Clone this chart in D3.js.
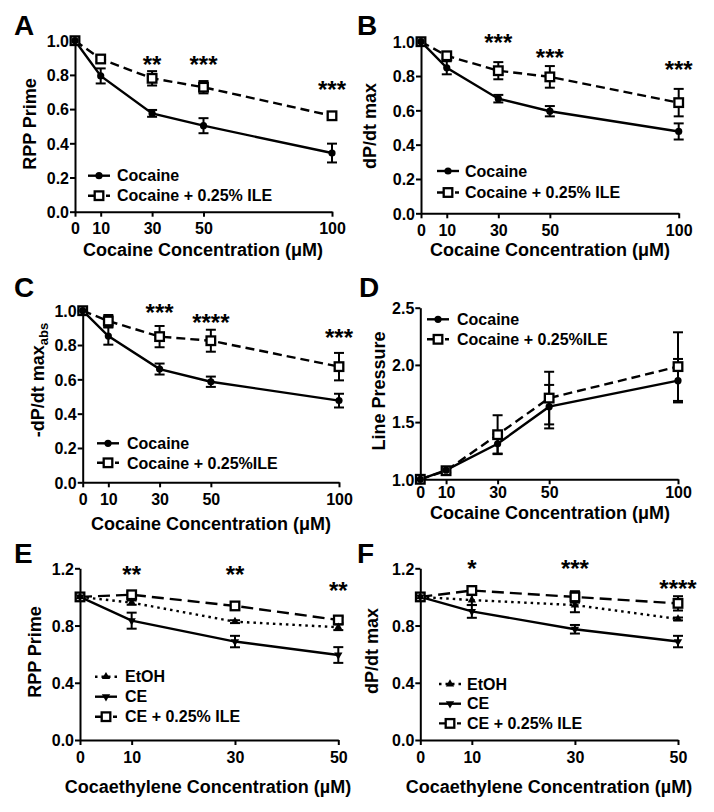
<!DOCTYPE html>
<html><head><meta charset="utf-8">
<script src="https://cdn.jsdelivr.net/npm/d3@7"></script>
<style>
body{margin:0;background:#fff}
text{font-family:"Liberation Sans",Arial,sans-serif;font-weight:bold;fill:#000}
</style>
</head><body>
<svg id="c" width="714" height="812"></svg>
<script>
// ---------- data ----------
const concCocaine = [0, 10, 30, 50, 100];
const concCE = [0, 10, 30, 50];
const ticksCocaineX = [0, 10, 30, 50, 100];
const ticksCEX = [0, 10, 30, 50];
const ticksY1 = [0, 0.2, 0.4, 0.6, 0.8, 1.0];
const ticksYD = [1.0, 1.5, 2.0, 2.5];
const ticksYEF = [0, 0.4, 0.8, 1.2];

// Panel A: RPP Prime
const A_cocaine = [1.0, 0.794, 0.575, 0.503, 0.343];
const A_cocaineErr = [0, 0.044, 0.02, 0.044, 0.055];
const A_ile = [1.0, 0.893, 0.78, 0.728, 0.561];
const A_ileErr = [0, 0.015, 0.042, 0.036, 0.018];
const A_stars = ["", "", "**", "***", "***"];
const A_starLevel = [0, 0, 0.897, 0.897, 0.749];

// Panel B: dP/dt max
const B_cocaine = [1.0, 0.848, 0.668, 0.595, 0.477];
const B_cocaineErr = [0, 0.038, 0.022, 0.03, 0.047];
const B_ile = [1.0, 0.918, 0.831, 0.795, 0.645];
const B_ileErr = [0, 0.02, 0.05, 0.063, 0.08];
const B_stars = ["", "", "***", "***", "***"];
const B_starLevel = [0, 0, 1.029, 0.942, 0.874];

// Panel C: -dP/dt max abs
const C_cocaine = [1.0, 0.852, 0.66, 0.586, 0.476];
const C_cocaineErr = [0, 0.05, 0.032, 0.03, 0.04];
const C_ile = [1.0, 0.94, 0.849, 0.825, 0.674];
const C_ileErr = [0, 0.035, 0.062, 0.064, 0.08];
const C_stars = ["", "", "***", "****", "***"];
const C_starLevel = [0, 0, 1.023, 0.965, 0.878];

// Panel D: Line Pressure
const D_cocaine = [1.0, 1.08, 1.31, 1.635, 1.862];
const D_cocaineErr = [0, 0.02, 0.085, 0.19, 0.19];
const D_ile = [1.0, 1.075, 1.39, 1.71, 1.985];
const D_ileErr = [0, 0.02, 0.17, 0.23, 0.3];

// Panel E: RPP Prime (cocaethylene)
const E_etoh = [1.0, 0.96, 0.827, 0.788];
const E_etohErr = [0, 0.015, 0.01, 0.02];
const E_ce = [1.0, 0.834, 0.688, 0.594];
const E_ceErr = [0, 0.056, 0.04, 0.055];
const E_ile = [1.0, 1.015, 0.937, 0.839];
const E_ileErr = [0, 0.02, 0.02, 0.02];
const E_stars = ["", "**", "**", "**"];
const E_starLevel = [0, 1.2, 1.2, 1.083];

// Panel F: dP/dt max (cocaethylene)
const F_etoh = [1.0, 0.978, 0.943, 0.846];
const F_etohErr = [0, 0.035, 0.05, 0.01];
const F_ce = [1.0, 0.899, 0.774, 0.688];
const F_ceErr = [0, 0.045, 0.03, 0.04];
const F_ile = [1.0, 1.045, 1.0, 0.955];
const F_ileErr = [0, 0.03, 0.04, 0.05];
const F_stars = ["", "*", "***", "****"];
const F_starLevel = [0, 1.242, 1.242, 1.102];

// ---------- drawing ----------
const svg = d3.select("#c");
const styles = {
  solid: {dash: null},
  dashed: {dash: "9,5"},
  longdash: {dash: "12,6"},
  dotted: {dash: "2.5,4"}
};

function marker(g, type, cx, cy) {
  if (type === "circle") {
    g.append("circle").attr("cx", cx).attr("cy", cy).attr("r", 3.6).attr("fill", "#000");
  } else if (type === "square") {
    g.append("rect").attr("x", cx - 4.3).attr("y", cy - 4.3).attr("width", 8.6).attr("height", 8.6)
      .attr("fill", "#fff").attr("stroke", "#000").attr("stroke-width", 2.3);
  } else if (type === "tri") {
    const s = d3.symbol().type(d3.symbolTriangle).size(30);
    g.append("path").attr("d", s()).attr("transform", `translate(${cx},${cy})`).attr("fill", "#000");
  } else if (type === "itri") {
    const s = d3.symbol().type(d3.symbolTriangle).size(30);
    g.append("path").attr("d", s()).attr("transform", `translate(${cx},${cy}) rotate(180)`).attr("fill", "#000");
  }
}

function drawPanel(cfg) {
  const g = svg.append("g");
  const x = d3.scaleLinear().domain(cfg.xdom).range([cfg.x0, cfg.x1]);
  const y = d3.scaleLinear().domain(cfg.ydom).range([cfg.yb, cfg.yt]);

  // axes
  const ax = g.append("g").attr("transform", `translate(0,${cfg.yb})`)
    .call(d3.axisBottom(x).tickValues(cfg.xticks).tickSize(5).tickSizeOuter(0).tickPadding(cfg.xpad ?? 4).tickFormat(d3.format("d")));
  const ay = g.append("g").attr("transform", `translate(${cfg.x0},0)`)
    .call(d3.axisLeft(y).tickValues(cfg.yticks).tickSize(5).tickSizeOuter(0).tickPadding(1).tickFormat(d3.format(".1f")));
  [ax, ay].forEach(a => {
    a.select(".domain").attr("stroke", "#000").attr("stroke-width", 2);
    a.selectAll(".tick line").attr("stroke", "#000").attr("stroke-width", 2);
    a.selectAll(".tick text").style("font-size", "16px").style("font-family", '"Liberation Sans",Arial,sans-serif')
      .style("font-weight", "bold").attr("fill", "#000");
  });
  ax.selectAll(".tick text").attr("dy", "0.85em");
  ay.selectAll(".tick text").attr("dy", "0.36em");

  // series
  cfg.series.forEach(s => {
    const pts = cfg.xs.map((xv, i) => ({x: xv, y: s.values[i], e: s.err[i]}));
    g.append("path").datum(pts)
      .attr("d", d3.line().x(d => x(d.x)).y(d => y(d.y)))
      .attr("fill", "none").attr("stroke", "#000").attr("stroke-width", 2.4)
      .attr("stroke-dasharray", styles[s.style].dash);
  });
  cfg.series.forEach(s => {
    const pts = cfg.xs.map((xv, i) => ({x: xv, y: s.values[i], e: s.err[i]}));
    pts.filter(d => d.e > 0).forEach(d => {
      const cx = x(d.x), t = y(d.y + d.e), b = y(d.y - d.e);
      g.append("line").attr("x1", cx).attr("x2", cx).attr("y1", t).attr("y2", b).attr("stroke", "#000").attr("stroke-width", 2);
      [t, b].forEach(yy => g.append("line").attr("x1", cx - 5).attr("x2", cx + 5).attr("y1", yy).attr("y2", yy)
        .attr("stroke", "#000").attr("stroke-width", 2));
    });
  });
  cfg.series.slice().reverse().forEach(s => {
    cfg.xs.forEach((xv, i) => marker(g, s.marker, x(xv), y(s.values[i])));
  });

  // significance stars
  if (cfg.stars) {
    cfg.xs.forEach((xv, i) => {
      if (!cfg.stars[i]) return;
      g.append("text").attr("x", x(xv)).attr("y", y(cfg.starLevel[i])).attr("dy", "0.6em")
        .attr("text-anchor", "middle").style("font-size", "24px").text(cfg.stars[i]);
    });
  }

  // legend
  cfg.series.forEach((s, i) => {
    const ly = cfg.legend.y + i * cfg.legend.dy;
    g.append("line").attr("x1", cfg.legend.x).attr("x2", cfg.legend.x + 22).attr("y1", ly).attr("y2", ly)
      .attr("stroke", "#000").attr("stroke-width", 2.4).attr("stroke-dasharray", s.style === "dotted" ? "2.5,4" : (s.style === "solid" ? null : "6,3"));
    marker(g, s.marker, cfg.legend.x + 11, ly);
    g.append("text").attr("x", cfg.legend.tx).attr("y", ly).attr("dy", "0.36em")
      .style("font-size", "16px").text(s.label);
  });

  // titles
  g.append("text").attr("x", cfg.xt[0]).attr("y", cfg.xt[1]).attr("text-anchor", "middle")
    .style("font-size", "18px").text(cfg.xtitle);
  const yt = g.append("text").attr("transform", `translate(${cfg.yt2[0]},${cfg.yt2[1]}) rotate(-90)`)
    .attr("text-anchor", "middle").style("font-size", "18px");
  if (cfg.ysub) {
    yt.append("tspan").text(cfg.ytitle);
    yt.append("tspan").attr("dy", "0.3em").style("font-size", "13px").text(cfg.ysub);
  } else yt.text(cfg.ytitle);

  // panel letter
  g.append("text").attr("x", cfg.letter[0]).attr("y", cfg.letter[1]).style("font-size", "28px").text(cfg.name);
}

const cocTitle = "Cocaine Concentration (\u03BCM)";
const ceTitle = "Cocaethylene Concentration (\u00B5M)";

drawPanel({
  name: "A", letter: [14, 35], xs: concCocaine, xdom: [0, 100], ydom: [0, 1], xticks: ticksCocaineX, yticks: ticksY1,
  x0: 75, x1: 332, yt: 40.7, yb: 211.7,
  series: [
    {values: A_cocaine, err: A_cocaineErr, style: "solid", marker: "circle", label: "Cocaine"},
    {values: A_ile, err: A_ileErr, style: "dashed", marker: "square", label: "Cocaine + 0.25% ILE"}],
  stars: A_stars, starLevel: A_starLevel,
  legend: {x: 88, y: 175.7, dy: 20, tx: 117},
  xtitle: cocTitle, xt: [203, 256], ytitle: "RPP Prime", yt2: [36, 124]
});
drawPanel({
  name: "B", letter: [357, 35], xs: concCocaine, xdom: [0, 100], ydom: [0, 1], xticks: ticksCocaineX, yticks: ticksY1,
  x0: 421, x1: 678.7, yt: 41.7, yb: 213.3,
  series: [
    {values: B_cocaine, err: B_cocaineErr, style: "solid", marker: "circle", label: "Cocaine"},
    {values: B_ile, err: B_ileErr, style: "dashed", marker: "square", label: "Cocaine + 0.25% ILE"}],
  stars: B_stars, starLevel: B_starLevel,
  legend: {x: 437, y: 171, dy: 21.5, tx: 465},
  xtitle: cocTitle, xt: [550, 256], ytitle: "dP/dt max", yt2: [376, 126]
});
drawPanel({
  name: "C", letter: [14, 297], xs: concCocaine, xdom: [0, 100], ydom: [0, 1], xticks: ticksCocaineX, yticks: ticksY1,
  x0: 82.7, x1: 339, yt: 310.7, yb: 482.3,
  series: [
    {values: C_cocaine, err: C_cocaineErr, style: "solid", marker: "circle", label: "Cocaine"},
    {values: C_ile, err: C_ileErr, style: "dashed", marker: "square", label: "Cocaine + 0.25%ILE"}],
  stars: C_stars, starLevel: C_starLevel,
  legend: {x: 97, y: 443.3, dy: 19.5, tx: 127},
  xtitle: cocTitle, xt: [211, 530], ytitle: "-dP/dt max", ysub: "abs", yt2: [44, 380]
});
drawPanel({
  name: "D", letter: [359, 297], xs: concCocaine, xdom: [0, 100], ydom: [1, 2.5], xticks: ticksCocaineX, yticks: ticksYD,
  x0: 420.3, x1: 678, yt: 307.7, yb: 479.3, xpad: 0,
  series: [
    {values: D_cocaine, err: D_cocaineErr, style: "solid", marker: "circle", label: "Cocaine"},
    {values: D_ile, err: D_ileErr, style: "dashed", marker: "square", label: "Cocaine + 0.25%ILE"}],
  legend: {x: 427, y: 319.3, dy: 20, tx: 457},
  xtitle: cocTitle, xt: [550, 519], ytitle: "Line Pressure", yt2: [385, 391]
});
drawPanel({
  name: "E", letter: [14, 563], xs: concCE, xdom: [0, 50], ydom: [0, 1.2], xticks: ticksCEX, yticks: ticksYEF,
  x0: 80, x1: 338.3, yt: 568.3, yb: 740,
  series: [
    {values: E_etoh, err: E_etohErr, style: "dotted", marker: "tri", label: "EtOH"},
    {values: E_ce, err: E_ceErr, style: "solid", marker: "itri", label: "CE"},
    {values: E_ile, err: E_ileErr, style: "longdash", marker: "square", label: "CE + 0.25% ILE"}],
  stars: E_stars, starLevel: E_starLevel,
  legend: {x: 95, y: 676.7, dy: 20, tx: 125},
  xtitle: ceTitle, xt: [208, 793], ytitle: "RPP Prime", yt2: [41, 652]
});
drawPanel({
  name: "F", letter: [357, 563], xs: concCE, xdom: [0, 50], ydom: [0, 1.2], xticks: ticksCEX, yticks: ticksYEF,
  x0: 420.3, x1: 678, yt: 568.3, yb: 740,
  series: [
    {values: F_etoh, err: F_etohErr, style: "dotted", marker: "tri", label: "EtOH"},
    {values: F_ce, err: F_ceErr, style: "solid", marker: "itri", label: "CE"},
    {values: F_ile, err: F_ileErr, style: "longdash", marker: "square", label: "CE + 0.25% ILE"}],
  stars: F_stars, starLevel: F_starLevel,
  legend: {x: 439, y: 684, dy: 19.7, tx: 467},
  xtitle: ceTitle, xt: [549, 793], ytitle: "dP/dt max", yt2: [378, 651]
});
</script>
</body></html>
